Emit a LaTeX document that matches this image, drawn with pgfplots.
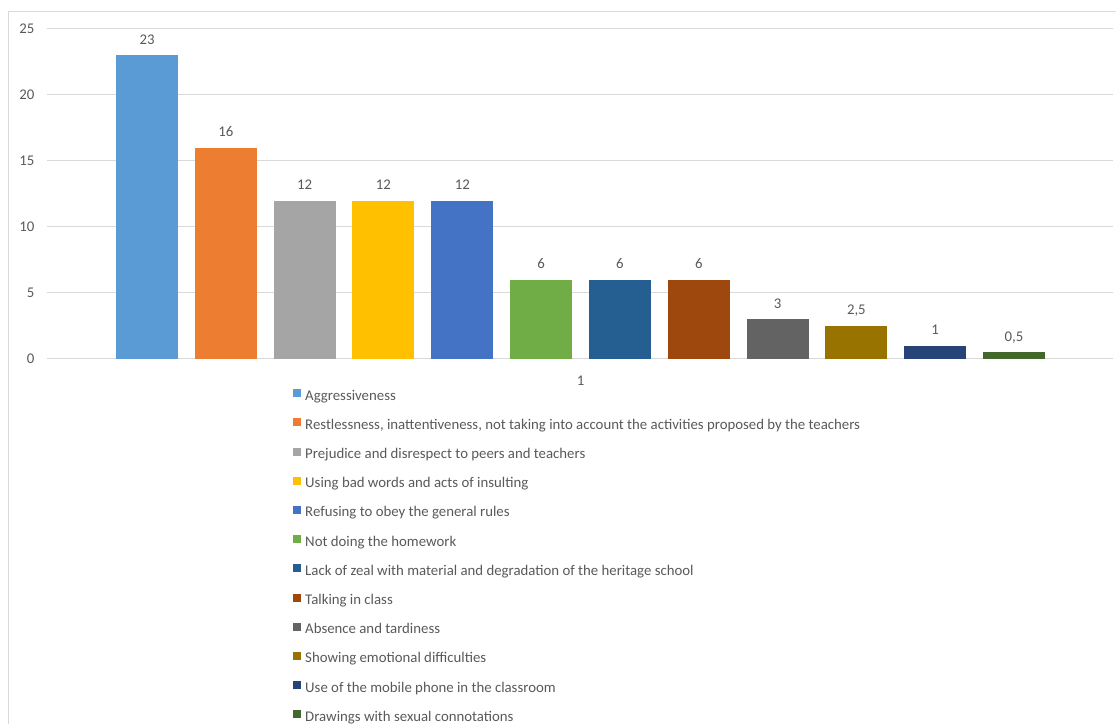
\documentclass[border=0pt]{standalone}
\usepackage{fontspec}
\setmainfont{Carlito}
\usepackage{pgfplots}
\pgfplotsset{compat=1.18}

\definecolor{txt}{HTML}{595959}
\definecolor{gridc}{HTML}{D9D9D9}
\definecolor{c1}{HTML}{5B9BD5}
\definecolor{c2}{HTML}{ED7D31}
\definecolor{c3}{HTML}{A5A5A5}
\definecolor{c4}{HTML}{FFC000}
\definecolor{c5}{HTML}{4472C4}
\definecolor{c6}{HTML}{70AD47}
\definecolor{c7}{HTML}{255E91}
\definecolor{c8}{HTML}{9E480E}
\definecolor{c9}{HTML}{636363}
\definecolor{c10}{HTML}{997300}
\definecolor{c11}{HTML}{264478}
\definecolor{c12}{HTML}{43682B}

\begin{document}
\begin{tikzpicture}[x=1bp,y=1bp]
\useasboundingbox (0,0) rectangle (1116,724);
\draw[gridc, line width=1.2bp] (8.5,-20) -- (8.5,712.5) -- (1130,712.5);
\begin{axis}[
    at={(47bp,365bp)}, anchor=south west,
    scale only axis,
    width=1066bp, height=330bp,
    ybar, bar width=0.787, bar shift=0pt,
    xmin=-0.269, xmax=13.256,
    ymin=0, ymax=25,
    ytick={0,5,...,25},
    xtick={6.5}, xticklabels={1},
    axis line style={draw=none},
    major tick length=0pt,
    ymajorgrids, xmajorgrids=false,
    y grid style={gridc, line width=1bp},
    font=\fontsize{14.8bp}{17bp}\selectfont,
    /pgf/number format/assume math mode=true,
    /pgf/number format/use comma,
    ticklabel style={text=txt},
    yticklabel style={xshift=-9bp},
    xticklabel style={yshift=-13bp},
    nodes near coords,
    every node near coord/.append style={text=txt, inner sep=0pt, text depth=0pt, yshift=11bp},
    legend style={at={(0.2308,-0.0909)}, anchor=north west, draw=none, fill=none,
        inner sep=0pt, row sep=14.2bp, text=txt,
        nodes={text height=10bp, text depth=4bp, inner sep=0pt},
        /tikz/every odd column/.append style={column sep=4bp}},
    legend cell align=left,
    legend image code/.code={\fill[#1] (0bp,0bp) rectangle (8bp,8bp);},
]
\addplot[fill=c1, draw=none] coordinates {(1,23)};
\addlegendentry{Aggressiveness}
\addplot[fill=c2, draw=none] coordinates {(2,16)};
\addlegendentry{Restlessness, inattentiveness, not taking into account the activities proposed by the teachers}
\addplot[fill=c3, draw=none] coordinates {(3,12)};
\addlegendentry{Prejudice and disrespect to peers and teachers}
\addplot[fill=c4, draw=none] coordinates {(4,12)};
\addlegendentry{Using bad words and acts of insulting}
\addplot[fill=c5, draw=none] coordinates {(5,12)};
\addlegendentry{Refusing to obey the general rules}
\addplot[fill=c6, draw=none] coordinates {(6,6)};
\addlegendentry{Not doing the homework}
\addplot[fill=c7, draw=none] coordinates {(7,6)};
\addlegendentry{Lack of zeal with material and degradation of the heritage school}
\addplot[fill=c8, draw=none] coordinates {(8,6)};
\addlegendentry{Talking in class}
\addplot[fill=c9, draw=none] coordinates {(9,3)};
\addlegendentry{Absence and tardiness}
\addplot[fill=c10, draw=none] coordinates {(10,2.5)};
\addlegendentry{Showing emotional difficulties}
\addplot[fill=c11, draw=none] coordinates {(11,1)};
\addlegendentry{Use of the mobile phone in the classroom}
\addplot[fill=c12, draw=none] coordinates {(12,0.5)};
\addlegendentry{Drawings with sexual connotations}
\end{axis}
\end{tikzpicture}
\end{document}
